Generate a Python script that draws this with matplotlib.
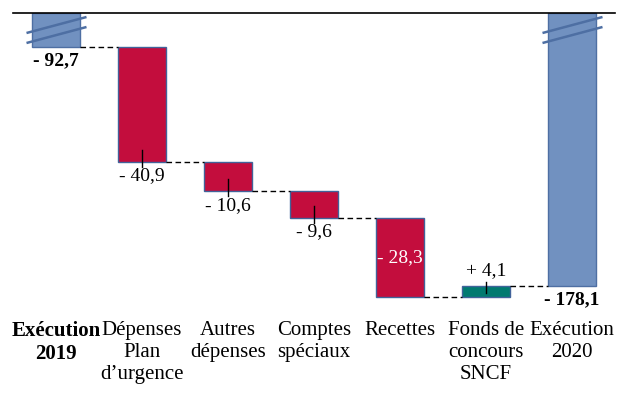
import matplotlib
matplotlib.use("Agg")
import matplotlib.pyplot as plt
import numpy as np

# ---- data ----
categories = ["Exécution\n2019", "Dépenses\nPlan\nd\u2019urgence", "Autres\ndépenses",
              "Comptes\nspéciaux", "Recettes", "Fonds de\nconcours\nSNCF", "Exécution\n2020"]
start_value = -92.7
changes = [-40.9, -10.6, -9.6, -28.3, 4.1]
end_value = -178.1
value_labels = ["- 92,7", "- 40,9", "- 10,6", "- 9,6", "- 28,3", "+ 4,1", "- 178,1"]

# ---- style ----
BLUE = "#7191C0"
BLUE_EDGE = "#4E6FA3"
RED = "#C30D3D"
TEAL = "#007A70"
EDGE = "#41639A"
FONT = "Liberation Serif"
FS = 14
FS_CAT = 15
axis_break = 80.56   # part of the total bars hidden by the axis break

plt.rcParams['font.family'] = [FONT, 'DejaVu Serif']

fig = plt.figure(figsize=(6.31, 3.97), dpi=100)
ax = fig.add_axes([13/631, 1 - 310/397, 602/631, 297/397])
ax.set_xlim(-0.5, 6.5)
ax.set_ylim(-106.07, 0)
px_y = 106.07 / 297.0   # data units per pixel (vertical)
px_x = 7.0 / 602.0

for s in ["left", "right", "bottom"]:
    ax.spines[s].set_visible(False)
ax.spines["top"].set_linewidth(1.2)
ax.spines["top"].set_color("black")
ax.set_yticks([])

width = 0.56
n = len(categories)
x = np.arange(n)

# running totals (displayed with the axis break)
totals = [start_value]
for c in changes:
    totals.append(totals[-1] + c)
disp = [t + axis_break for t in totals]

# first bar
ax.bar(x[0], disp[0], width=width, bottom=0, color=BLUE, edgecolor=BLUE_EDGE, linewidth=1)
# change bars
for i, c in enumerate(changes):
    xi = x[i + 1]
    col = RED if c < 0 else TEAL
    ax.bar(xi, c, width=width, bottom=disp[i], color=col, edgecolor=EDGE, linewidth=1)
# last bar
ax.bar(x[-1], end_value + axis_break, width=width, bottom=0, color=BLUE,
       edgecolor=BLUE_EDGE, linewidth=1)

# connectors
for i in range(n - 1):
    level = disp[i]
    ax.plot([x[i] + width/2, x[i+1] - width/2], [level, level], color="black",
            lw=1.0, ls=(0, (4, 2.5)), zorder=1)

# break marks
for xb in (x[0], x[-1]):
    for dy in (0, -10 * px_y):
        ax.plot([xb - 29.5*px_x, xb + 30.5*px_x],
                [-20*px_y + dy, -4*px_y + dy], color=BLUE_EDGE, lw=1.8,
                solid_capstyle="butt", zorder=5, clip_on=False)

# value labels
ax.text(x[0], disp[0] - 14*px_y, value_labels[0], ha="center", va="center",
        fontsize=FS, fontweight="bold")
for i, c in enumerate(changes):
    xi = x[i + 1]
    top = disp[i]
    end = disp[i] + c
    lab = value_labels[i + 1]
    if c < 0 and i == 3:
        ax.text(xi, (top + end)/2, lab, ha="center", va="center", fontsize=FS, color="white")
    elif c < 0:
        ax.plot([xi, xi], [end + 12*px_y, end - 5*px_y], color="black", lw=1, zorder=4)
        ax.text(xi, end - 14*px_y, lab, ha="center", va="center", fontsize=FS)
    else:
        ax.plot([xi, xi], [end + 4*px_y, end - 7*px_y], color="black", lw=1, zorder=4)
        ax.text(xi, end + 15*px_y, lab, ha="center", va="center", fontsize=FS)
ax.text(x[-1], end_value + axis_break - 14*px_y, value_labels[-1], ha="center",
        va="center", fontsize=FS, fontweight="bold")

# category labels
ax.set_xticks(x)
ax.set_xticklabels(categories, fontsize=FS_CAT, linespacing=1.22)
ax.tick_params(axis="x", length=0, pad=8)
ax.get_xticklabels()[0].set_fontweight("bold")

fig.savefig("out.png", dpi=100)
